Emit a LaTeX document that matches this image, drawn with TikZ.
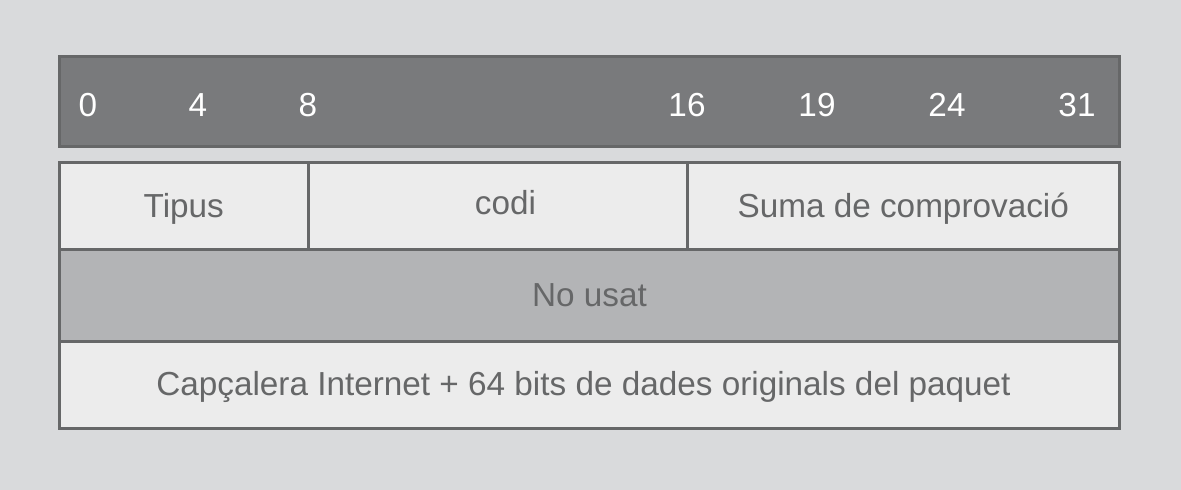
\documentclass[tikz,border=0pt]{standalone}
\usepackage{fontspec}
\setmainfont{Liberation Sans}
\usetikzlibrary{positioning}

\definecolor{pagegray}{HTML}{D9DADC}
\definecolor{headgray}{HTML}{797A7C}
\definecolor{edgegray}{HTML}{666768}
\definecolor{cellgray}{HTML}{ECECEC}
\definecolor{midgray}{HTML}{B3B4B6}
\definecolor{textgray}{HTML}{666768}

\begin{document}
\begin{tikzpicture}[x=1pt,y=-1pt,font=\fontsize{33.3}{38}\selectfont]
\tikzstyle{cell}=[draw=edgegray,line width=3pt,fill=cellgray,text=textgray,inner sep=0pt,outer sep=0pt,text height=23.5pt,text depth=0pt]
\tikzstyle{bit}=[text=white,inner sep=0pt,text height=23.5pt,text depth=0pt]
\tikzstyle{every label}=[text=textgray,inner sep=0pt,text height=23.5pt,text depth=0pt]

\useasboundingbox[fill=pagegray] (0,0) rectangle (1181,490);

% header with bit positions
\node[cell,fill=headgray,minimum width=1060pt,minimum height=90pt] (head) at (589.5,101.5) {};
\foreach \b/\x in {0/88,4/198,8/308,16/687,19/817,24/947,31/1077}
  \node[bit] (bit\b) at (\x,105) {\b};

% first row
\node[cell,minimum width=248.5pt,minimum height=86.5pt] (tipus) at (183.75,205.75) {Tipus};
\node[cell,minimum width=379pt,minimum height=86.5pt,label={[xshift=8pt,yshift=3pt]center:codi}] (codi) at (497.5,205.75) {};
\node[cell,minimum width=432.5pt,minimum height=86.5pt] (suma) at (903.25,205.75) {Suma de comprovació};

% second and third rows
\node[cell,fill=midgray,minimum width=1060pt,minimum height=92pt] (nousat) at (589.5,295) {No usat};
\node[cell,minimum width=1060pt,minimum height=87.5pt,label={[xshift=-6pt,yshift=1pt]center:Capçalera Internet + 64 bits de dades originals del paquet}] (capca) at (589.5,384.75) {};
\end{tikzpicture}
\end{document}
